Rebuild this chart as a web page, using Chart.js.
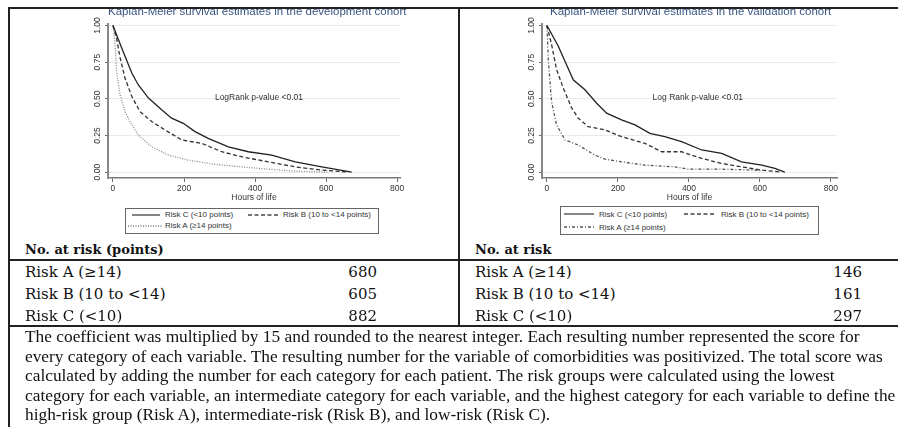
<!DOCTYPE html>
<html>
<head>
<meta charset="utf-8">
<script src="https://cdn.jsdelivr.net/npm/chart.js@4.4.1/dist/chart.umd.min.js"></script>
<style>
  html,body{margin:0;padding:0;background:#fff;}
  #page{position:relative;width:898px;height:427px;overflow:hidden;background:#fff;}
  .abs{position:absolute;}
  .hl{position:absolute;background:#222;}
  .ttl{position:absolute;font:11.5px Arial,"Liberation Sans",sans-serif;color:#3a5680;white-space:nowrap;text-align:center;}
  .legend{position:absolute;border:1px solid #666;background:#fff;font:8px Arial,"Liberation Sans",sans-serif;color:#333;}
  .legend .it{position:absolute;white-space:nowrap;line-height:10px;}
  .legend svg{position:absolute;}
  .row{position:absolute;font:15px "DejaVu Serif",serif;color:#111;white-space:nowrap;line-height:20px;}
  .num{position:absolute;font:15px "DejaVu Serif",serif;color:#111;white-space:nowrap;line-height:20px;text-align:right;}
  .hdr{position:absolute;font:bold 13px "DejaVu Serif",serif;color:#111;white-space:nowrap;}
  .para{position:absolute;left:25px;font:16px "Liberation Serif","Times New Roman",serif;color:#111;white-space:nowrap;line-height:20px;transform:scaleX(1.083);transform-origin:0 50%;}
</style>
</head>
<body>
<div id="page">
  <canvas id="devChart" class="abs" style="left:0;top:0"></canvas>
  <canvas id="valChart" class="abs" style="left:450px;top:0"></canvas>

  <div class="ttl" style="left:108px;top:5px;width:296px">Kaplan-Meier survival estimates in the development cohort</div>
  <div class="ttl" style="left:550px;top:5px;width:280px">Kaplan-Meier survival estimates in the validation cohort</div>

  <div class="legend" style="left:125px;top:208px;width:252px;height:24px">
    <svg style="left:6px;top:3px" width="28" height="6"><line x1="0" y1="3" x2="28" y2="3" stroke="#444" stroke-width="1.3"/></svg>
    <div class="it" style="left:39px;top:1px">Risk C (&lt;10 points)</div>
    <svg style="left:122px;top:3px" width="30" height="6"><line x1="0" y1="3" x2="30" y2="3" stroke="#444" stroke-width="1.3" stroke-dasharray="4 2.5"/></svg>
    <div class="it" style="left:157px;top:1px">Risk B (10 to &lt;14 points)</div>
    <svg style="left:2px;top:14px" width="34" height="6"><line x1="0" y1="3" x2="34" y2="3" stroke="#777" stroke-width="1.3" stroke-dasharray="1 1.5"/></svg>
    <div class="it" style="left:39px;top:12px">Risk A (≥14 points)</div>
  </div>

  <div class="legend" style="left:560px;top:206px;width:257px;height:27px">
    <svg style="left:3px;top:4px" width="30" height="6"><line x1="0" y1="3" x2="30" y2="3" stroke="#444" stroke-width="1.3"/></svg>
    <div class="it" style="left:38px;top:3px">Risk C (&lt;10 points)</div>
    <svg style="left:123px;top:4px" width="32" height="6"><line x1="0" y1="3" x2="32" y2="3" stroke="#444" stroke-width="1.3" stroke-dasharray="4 2.5"/></svg>
    <div class="it" style="left:160px;top:3px">Risk B (10 to &lt;14 points)</div>
    <svg style="left:3px;top:17px" width="30" height="6"><line x1="0" y1="3" x2="30" y2="3" stroke="#555" stroke-width="1.3" stroke-dasharray="3 2 1 2"/></svg>
    <div class="it" style="left:38px;top:16px">Risk A (≥14 points)</div>
  </div>

  <!-- table lines -->
  <div class="hl" style="left:8px;top:7px;width:890px;height:2px"></div>
  <div class="hl" style="left:8px;top:7px;width:1.5px;height:420px"></div>
  <div class="hl" style="left:458px;top:7px;width:1.5px;height:320px"></div>
  <div class="hl" style="left:8px;top:259px;width:890px;height:2px"></div>
  <div class="hl" style="left:8px;top:325px;width:890px;height:2px"></div>

  <div class="hdr" style="left:25px;top:242px">No. at risk (points)</div>
  <div class="hdr" style="left:475px;top:242px">No. at risk</div>
  <div id="rowsDev"></div>
  <div id="rowsVal"></div>

  <div id="paraBox"></div>
</div>

<script>
// risk table
const riskLabels = ['Risk A (≥14)', 'Risk B (10 to <14)', 'Risk C (<10)'];
const devAtRisk = [680, 605, 882];
const valAtRisk = [146, 161, 297];

// development cohort curves (hours, survival)
const devTimeC = [0, 24, 53, 71, 100, 137, 165, 198, 231, 268, 325, 381, 447, 513, 588, 672];
const devSurvC = [1, .85, .676, .596, .505, .425, .368, .333, .276, .23, .173, .139, .116, .07, .036, 0];
const devTimeB = [0, 10, 20, 34, 53, 76, 109, 146, 194, 250, 306, 362, 437, 513, 588, 663];
const devSurvB = [1, .915, .78, .64, .516, .413, .345, .288, .219, .196, .139, .105, .07, .036, .014, 0];
const devTimeA = [0, 6, 10, 20, 34, 48, 71, 109, 156, 212, 287, 362, 437, 513, 607];
const devSurvA = [1, .87, .687, .527, .413, .345, .253, .173, .116, .082, .053, .036, .02, .007, 0];

// validation cohort curves
const valTimeC = [0, 32, 51, 74, 107, 140, 168, 210, 248, 290, 332, 379, 436, 492, 548, 605, 642, 670];
const valSurvC = [1, .858, .755, .63, .562, .47, .402, .356, .322, .265, .242, .208, .151, .128, .07, .048, .025, 0];
const valTimeB = [0, 13, 27, 46, 70, 88, 116, 163, 210, 276, 323, 379, 436, 492, 548, 605, 661];
const valSurvB = [1, .87, .7, .573, .436, .368, .31, .288, .242, .196, .139, .139, .094, .059, .036, .014, 0];
const valTimeA = [0, 4, 13, 27, 51, 88, 135, 163, 210, 276, 360, 398, 492, 586, 606];
const valSurvA = [1, .755, .48, .322, .219, .185, .116, .089, .07, .048, .036, .02, .02, .014, .01];

const xTicks = [0, 200, 400, 600, 800];
const yTicks = [0, 0.25, 0.5, 0.75, 1];

const paraLines = [
  'The coefficient was multiplied by 15 and rounded to the nearest integer. Each resulting number represented the score for',
  'every category of each variable. The resulting number for the variable of comorbidities was positivized. The total score was',
  'calculated by adding the number for each category for each patient. The risk groups were calculated using the lowest',
  'category for each variable, an intermediate category for each variable, and the highest category for each variable to define the',
  'high-risk group (Risk A), intermediate-risk (Risk B), and low-risk (Risk C).'
];

// ---- html table bits
function fillRows(id, left, numRight, vals){
  const box = document.getElementById(id);
  riskLabels.forEach((lab, i) => {
    const top = 262 + i * 22;
    const r = document.createElement('div');
    r.className = 'row'; r.style.left = left + 'px'; r.style.top = top + 'px';
    r.textContent = lab; box.appendChild(r);
    const n = document.createElement('div');
    n.className = 'num'; n.style.left = (numRight - 60) + 'px'; n.style.width = '60px'; n.style.top = top + 'px';
    n.textContent = vals[i]; box.appendChild(n);
  });
}
fillRows('rowsDev', 25, 377, devAtRisk);
fillRows('rowsVal', 475, 862, valAtRisk);

const pb = document.getElementById('paraBox');
paraLines.forEach((t, i) => {
  const d = document.createElement('div');
  d.className = 'para'; d.style.top = (327 + i * 19.6) + 'px';
  d.textContent = t; pb.appendChild(d);
});

// ---- charts
const pts = (xs, ys) => xs.map((x, i) => ({x, y: ys[i]}));

const annotate = {
  id: 'annotate',
  afterDatasetsDraw(chart, args, opts){
    const {ctx, scales: {x, y}} = chart;
    ctx.save();
    ctx.font = '8.5px Arial, "Liberation Sans", sans-serif';
    ctx.fillStyle = '#333';
    ctx.textAlign = 'center';
    ctx.textBaseline = 'middle';
    ctx.fillText(opts.text, x.getPixelForValue(opts.x), y.getPixelForValue(opts.y));
    ctx.restore();
  }
};

function makeChart(id, cfg){
  const cv = document.getElementById(id);
  cv.width = 450; cv.height = 205;
  cv.style.width = '450px'; cv.style.height = '205px';
  const ds = (label, data, color, dash) => ({
    label, data, borderColor: color, borderWidth: 1.3, borderDash: dash,
    pointRadius: 0, tension: 0, fill: false
  });
  return new Chart(cv.getContext('2d'), {
    type: 'line',
    data: {
      datasets: [
        ds('Risk C (<10 points)', cfg.c, '#222', []),
        ds('Risk B (10 to <14 points)', cfg.b, '#333', [4, 2.5]),
        ds('Risk A (≥14 points)', cfg.a, cfg.aColor, cfg.aDash)
      ]
    },
    plugins: [annotate],
    options: {
      responsive: false,
      animation: false,
      devicePixelRatio: 1,
      layout: {padding: {left: cfg.left - 20, right: 450 - cfg.right, top: 24, bottom: 0}},
      plugins: {
        legend: {display: false},
        tooltip: {enabled: false},
        annotate: {text: cfg.note, x: cfg.noteX, y: 0.51}
      },
      scales: {
        x: {
          type: 'linear', min: -14, max: cfg.xmax,
          afterBuildTicks: s => { s.ticks = xTicks.map(v => ({value: v})); },
          afterFit: s => { s.height = 27; },
          grid: {drawOnChartArea: false, drawTicks: true, tickLength: 4, tickColor: '#666'},
          border: {display: true, color: '#777', width: 1.5},
          ticks: {padding: 2, color: '#333', font: {family: 'Arial', size: 8.5}, maxRotation: 0, autoSkip: false},
          title: {display: true, text: 'Hours of life', color: '#333', font: {family: 'Arial', size: 8.5}, padding: {top: -3, bottom: 2}}
        },
        y: {
          type: 'linear', min: -0.04, max: 1.01,
          afterBuildTicks: s => { s.ticks = yTicks.map(v => ({value: v})); },
          afterFit: s => { s.width = 20; },
          grid: {color: '#e3edf1', lineWidth: 1, drawTicks: true, tickLength: 3, tickColor: '#666'},
          border: {display: true, color: '#888', width: 2},
          ticks: {
            padding: -1, color: '#333', font: {family: 'Arial', size: 8.5},
            minRotation: 90, maxRotation: 90, crossAlign: 'center', autoSkip: false,
            callback: v => Number(v).toFixed(2)
          }
        }
      }
    }
  });
}

makeChart('devChart', {
  c: pts(devTimeC, devSurvC), b: pts(devTimeB, devSurvB), a: pts(devTimeA, devSurvA),
  aColor: '#888', aDash: [1, 1.5],
  left: 108, right: 400, xmax: 808,
  note: 'LogRank p-value <0.01', noteX: 411
});
makeChart('valChart', {
  c: pts(valTimeC, valSurvC), b: pts(valTimeB, valSurvB), a: pts(valTimeA, valSurvA),
  aColor: '#555', aDash: [3, 2, 1, 2],
  left: 92, right: 387, xmax: 817,
  note: 'Log Rank p-value <0.01', noteX: 425
});
</script>
</body>
</html>
